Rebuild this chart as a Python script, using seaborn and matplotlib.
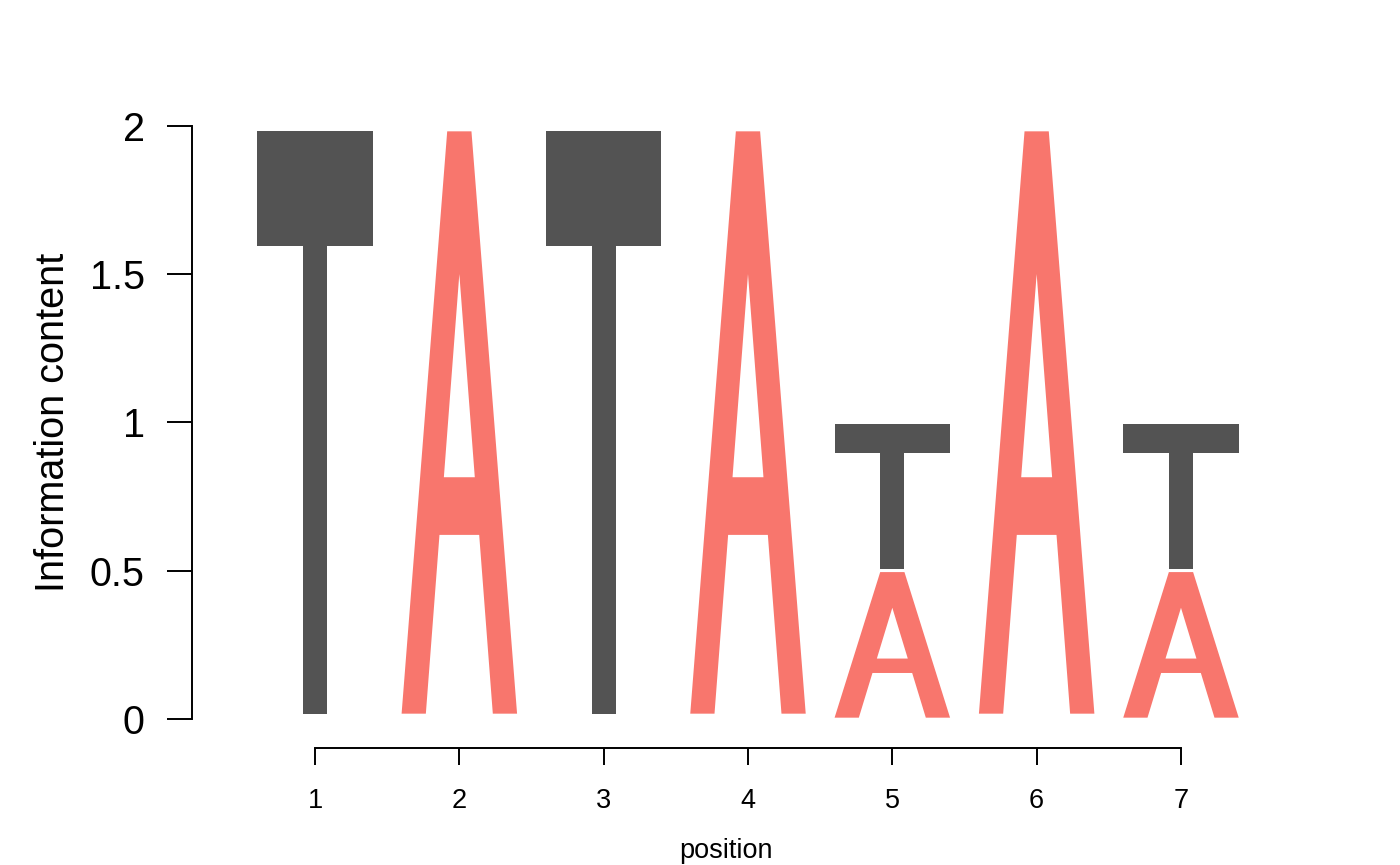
import numpy as np
import matplotlib
matplotlib.use("Agg")
import matplotlib.pyplot as plt
from matplotlib.path import Path
from matplotlib.patches import PathPatch
import seaborn as sns

# sequence logo data: information content per letter at each position
positions = [1, 2, 3, 4, 5, 6, 7]
height_A = [0.0, 2.0, 0.0, 2.0, 0.5, 2.0, 0.5]
height_T = [2.0, 0.0, 2.0, 0.0, 0.5, 0.0, 0.5]
letter_colors = {"A": "#F8766D", "T": "#535353"}

LETTER_WIDTH = 0.8
PAD = 0.009  # vertical padding inside each letter box, fraction of its height


def glyph(letter):
    """Return (vertices, codes) of a letter in a unit box."""
    if letter == "T":
        verts = [(0, 0.803), (0, 1), (1, 1), (1, 0.803), (0.603, 0.803),
                 (0.603, 0), (0.397, 0), (0.397, 0.803), (0, 0.803)]
        codes = [Path.MOVETO] + [Path.LINETO] * 7 + [Path.CLOSEPOLY]
        return verts, codes
    outer = [(0, 0), (0.395, 1), (0.605, 1), (1, 0), (0.79, 0), (0.672, 0.307),
             (0.328, 0.307), (0.21, 0), (0, 0)]
    hole = [(0.366, 0.406), (0.634, 0.406), (0.5, 0.755), (0.366, 0.406)]
    verts = outer + hole
    codes = ([Path.MOVETO] + [Path.LINETO] * 7 + [Path.CLOSEPOLY] +
             [Path.MOVETO] + [Path.LINETO] * 2 + [Path.CLOSEPOLY])
    return verts, codes


def draw_letter(ax, letter, x, y0, h):
    verts, codes = glyph(letter)
    v = np.array(verts, dtype=float)
    v[:, 0] = x - LETTER_WIDTH / 2 + v[:, 0] * LETTER_WIDTH
    v[:, 1] = y0 + h * PAD + v[:, 1] * h * (1 - 2 * PAD)
    ax.add_patch(PathPatch(Path(v, codes), facecolor=letter_colors[letter],
                           edgecolor="none", clip_on=False))


sns.set_style("ticks")
plt.rcParams["font.family"] = ["Liberation Sans", "DejaVu Sans"]
plt.rcParams["text.color"] = "black"
plt.rcParams["axes.labelcolor"] = "black"

fig = plt.figure(figsize=(14, 8.65), dpi=100)
ax = fig.add_axes([192 / 1400, 146 / 865, 1068 / 1400, 593 / 865])

for i, pos in enumerate(positions):
    stack = sorted([("A", height_A[i]), ("T", height_T[i])], key=lambda t: t[1])
    base = 0.0
    for letter, h in stack:
        if h > 0:
            draw_letter(ax, letter, pos, base, h)
            base += h

ax.set_xlim(1 - 123 / 144.33, 1 + 945 / 144.33)
ax.set_ylim(0, 2)

sns.despine(ax=ax)
ax.spines["left"].set_bounds(0, 2)
ax.spines["bottom"].set_bounds(1, 7)
ax.spines["bottom"].set_position(("outward", 21))
for s in ("left", "bottom"):
    ax.spines[s].set_linewidth(1.4)
    ax.spines[s].set_color("black")

ax.set_yticks([0, 0.5, 1, 1.5, 2])
ax.set_yticklabels(["0", "0.5", "1", "1.5", "2"])
ax.set_xticks(positions)
ax.set_xticklabels([str(p) for p in positions])
ax.tick_params(axis="y", length=18, width=1.4, pad=16, labelsize=28.5, colors="black")
ax.tick_params(axis="x", length=12, width=1.4, pad=17, labelsize=19.5, colors="black")

ax.set_ylabel("Information content", fontsize=28.5, labelpad=13)
ax.set_xlabel("position", fontsize=19.5, labelpad=17)

fig.savefig("out.png", dpi=100, facecolor="white")
